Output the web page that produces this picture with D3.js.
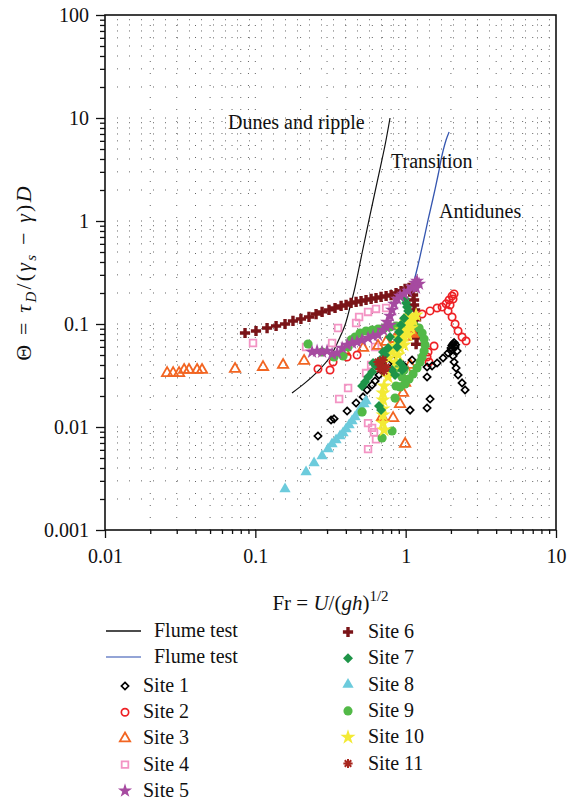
<!DOCTYPE html>
<html><head><meta charset="utf-8">
<script src="https://cdn.jsdelivr.net/npm/d3@7"></script>
<style>
body{margin:0;background:#fff}
svg text{font-family:"Liberation Serif","DejaVu Serif",serif !important;fill:#111}
</style></head>
<body><svg id="c" width="567" height="803"></svg>
<script>
// ---- data: [Fr, Theta] ----
const site1 = [[0.261,0.00818],[0.319,0.0117],[0.334,0.0120],[0.408,0.0143],[0.468,0.0171],[0.521,0.0196],[0.554,0.0229],[0.598,0.0256],[0.626,0.0280],[0.665,0.0320],[0.707,0.0358],[0.764,0.0409],[0.825,0.0447],[0.961,0.040],[1.103,0.0447],[1.070,0.0146],[1.388,0.0153],[1.453,0.0187],[1.388,0.0306],[1.388,0.0382],[1.498,0.0391],[1.618,0.0418],[1.774,0.0468],[1.915,0.0523],[2.004,0.0585],[2.067,0.0639],[2.132,0.0598],[2.198,0.0547],[2.067,0.0489],[2.099,0.0428],[2.165,0.0374],[2.232,0.0320],[2.373,0.0268],[2.484,0.0229],[2.03,0.062],[2.10,0.066],[2.05,0.057],[2.15,0.063],[2.00,0.055]];
const site2 = [[0.261,0.0366],[0.314,0.0358],[0.329,0.0428],[0.408,0.0478],[0.475,0.050],[1.286,0.125],[1.453,0.134],[1.618,0.143],[1.747,0.146],[1.857,0.157],[1.945,0.171],[2.036,0.187],[2.099,0.196],[2.067,0.175],[1.974,0.153],[1.915,0.134],[2.036,0.117],[2.132,0.100],[2.232,0.0855],[2.373,0.0748],[2.522,0.0684],[1.545,0.0612],[1.409,0.0535],[1.388,0.0478],[1.431,0.0428]];
const site3 = [[0.0259,0.0334],[0.0284,0.0334],[0.0311,0.0334],[0.0336,0.0358],[0.0362,0.0358],[0.0410,0.0358],[0.0442,0.0358],[0.0733,0.0366],[0.1125,0.0382],[0.153,0.040],[0.211,0.0438],[0.395,0.0535],[0.521,0.0585],[0.655,0.0612],[0.741,0.0669],[0.850,0.0715],[0.991,0.0748],[1.120,0.080],[1.190,0.0836],[1.070,0.040],[1.038,0.0334],[0.991,0.0268],[0.961,0.0214],[0.918,0.0167],[0.825,0.0122],[0.697,0.0125],[0.991,0.00684]];
const site4 = [[0.0965,0.0654],[0.2175,0.0598],[0.324,0.0654],[0.355,0.0914],[0.468,0.1023],[0.490,0.117],[0.562,0.131],[0.635,0.140],[0.741,0.143],[0.626,0.0598],[0.414,0.0239],[0.361,0.0187],[0.545,0.0334],[0.589,0.040],[0.562,0.0109],[0.598,0.0098],[0.616,0.0089],[0.635,0.0076],[0.562,0.0061]];
const site5 = [[0.2385,0.0535],[0.2575,0.0547],[0.278,0.0535],[0.300,0.0547],[0.324,0.0512],[0.350,0.0523],[0.378,0.0585],[0.408,0.0625],[0.440,0.0654],[0.475,0.0669],[0.513,0.070],[0.562,0.0731],[0.607,0.0765],[0.655,0.0782],[0.707,0.0875],[0.752,0.1045],[0.787,0.1196],[0.812,0.1368],[0.837,0.1565],[0.877,0.175],[0.918,0.187],[0.976,0.1955],[1.038,0.209],[1.103,0.2286],[1.155,0.250],[1.190,0.2614],[1.228,0.2445],[1.173,0.2237],[0.787,0.0978],[0.741,0.0935]];
const site6 = [[0.0854,0.0818],[0.101,0.0855],[0.1197,0.0914],[0.1374,0.0956],[0.1576,0.100],[0.178,0.107],[0.201,0.112],[0.2275,0.117],[0.2535,0.125],[0.278,0.131],[0.309,0.137],[0.339,0.143],[0.372,0.1496],[0.4015,0.153],[0.4335,0.160],[0.468,0.1637],[0.505,0.167],[0.545,0.171],[0.589,0.175],[0.635,0.1788],[0.686,0.183],[0.741,0.187],[0.80,0.191],[0.863,0.200],[0.932,0.209],[0.991,0.219],[1.053,0.224],[1.103,0.214],[1.12,0.191],[1.137,0.171],[1.137,0.153],[1.155,0.137],[1.155,0.1225],[1.173,0.1096],[1.173,0.0956],[1.19,0.0836],[1.19,0.0729],[1.173,0.0636]];
const site7 = [[0.991,0.175],[1.006,0.160],[1.022,0.146],[1.038,0.134],[0.976,0.114],[0.932,0.0978],[0.904,0.0836],[0.890,0.070],[0.877,0.0598],[0.787,0.0748],[0.764,0.0585],[0.707,0.0535],[0.676,0.0447],[0.635,0.0391],[0.598,0.0342],[0.562,0.0306],[0.537,0.0274],[0.513,0.025],[0.607,0.0418],[0.730,0.050],[0.918,0.0418],[0.946,0.0358],[0.976,0.0374],[0.665,0.016],[0.686,0.0146],[0.812,0.0358],[0.850,0.032]];
const site8 = [[0.1576,0.0025],[0.2175,0.00366],[0.2459,0.00447],[0.278,0.00523],[0.3046,0.00612],[0.3237,0.00684],[0.3443,0.00748],[0.366,0.00818],[0.3833,0.00874],[0.4015,0.00956],[0.4203,0.01046],[0.440,0.01143],[0.4607,0.0125],[0.4824,0.01368],[0.505,0.0153],[0.5287,0.01672],[0.545,0.01789]];
const site9 = [[0.2242,0.0639],[0.278,0.0535],[0.3338,0.0478],[0.3833,0.0489],[0.414,0.0598],[0.4331,0.070],[0.4607,0.0748],[0.4973,0.0818],[0.545,0.0855],[0.5975,0.0875],[0.655,0.0894],[0.7183,0.0914],[0.787,0.0935],[0.863,0.0956],[0.946,0.0978],[1.038,0.100],[1.137,0.0978],[1.228,0.0914],[1.286,0.0818],[1.326,0.0715],[1.346,0.0625],[1.326,0.0547],[1.286,0.0478],[1.247,0.04276],[1.19,0.0374],[1.12,0.0327],[1.053,0.0292],[0.991,0.0262],[0.918,0.0245],[0.863,0.025],[0.946,0.0306],[0.976,0.0358],[0.890,0.0374],[0.850,0.0191],[0.513,0.0140],[0.812,0.00915],[0.697,0.00782]];
const site10 = [[1.173,0.1223],[1.12,0.1096],[1.070,0.0978],[1.022,0.0875],[0.976,0.0765],[0.946,0.0669],[0.918,0.0585],[0.890,0.050],[0.863,0.0428],[0.825,0.0358],[0.764,0.0306],[0.718,0.025],[0.707,0.0214],[0.707,0.0183],[0.707,0.0150],[0.707,0.0131],[0.707,0.0109],[0.718,0.00935],[1.070,0.1196],[1.006,0.1045],[0.946,0.0875],[0.890,0.0731],[0.850,0.0612],[0.812,0.0535],[0.776,0.0468],[0.976,0.0625],[1.038,0.0782],[1.086,0.0914]];
const site11 = [[0.655,0.0428],[0.686,0.040],[0.707,0.0447],[0.676,0.0366],[0.718,0.0349],[0.741,0.0382]];

const flumeBlackFr = [0.1754,0.2142,0.2613,0.3141,0.366,0.3953,0.4267,0.4607,0.513,0.5797,0.655,0.7295,0.787];
const flumeBlackTheta = [0.0214,0.0268,0.0349,0.0478,0.0748,0.0978,0.1462,0.2286,0.489,1.144,2.616,5.468,10.0];
const flumeBlueFr = [1.12,1.209,1.305,1.409,1.522,1.643,1.747,1.857,1.945];
const flumeBlueTheta = [0.239,0.374,0.6115,1.023,1.672,2.797,4.373,6.115,7.313];

const xTickLabels = ["0.01","0.1","1","10"];
const yTickLabels = ["0.001","0.01","0.1","1","10","100"];
const siteNames = ["Site 1","Site 2","Site 3","Site 4","Site 5","Site 6","Site 7","Site 8","Site 9","Site 10","Site 11"];
const regimeLabels = ["Dunes and ripple","Transition","Antidunes"];

// ---- setup ----
const FONT = '"Liberation Serif","DejaVu Serif",serif';
const svg = d3.select("#c");
const x = d3.scaleLog().domain([0.01,10]).range([105,556]);
const y = d3.scaleLog().domain([0.001,100]).range([530,15]);
const L = 105, R = 556, T = 15, B = 530;

function minorVals(lo, hi){
  const out=[];
  for(let p=Math.log10(lo); p<Math.log10(hi)-1e-9; p++){
    for(let k=1;k<=9;k++) out.push(k*Math.pow(10,p));
  }
  out.push(hi);
  return out.map(v=>+v.toPrecision(3));
}
const xAll = minorVals(0.01,10);
const yAll = minorVals(0.001,100);
const xMajor = xTickLabels.map(Number);
const yMajor = yTickLabels.map(Number);
const isMaj = (arr,v)=>arr.some(m=>Math.abs(m-v)/m<1e-6);

// grid (dotted)
const grid = svg.append("g").attr("stroke","#333").attr("stroke-width",1).attr("stroke-dasharray","1,11").attr("opacity",0.75);
grid.selectAll("line.h").data(yAll.filter(v=>v>0.001&&v<100)).enter().append("line")
  .attr("x1",L+12).attr("x2",R).attr("y1",d=>y(d)).attr("y2",d=>y(d));
grid.selectAll("line.v").data(xAll.filter(v=>v>0.01&&v<10)).enter().append("line")
  .attr("x1",d=>x(d)).attr("x2",d=>x(d)).attr("y1",T+10).attr("y2",B);

// axes
const yAxis = d3.axisLeft(y).tickValues(yAll).tickSize(5)
  .tickFormat(d=>{const i=yMajor.findIndex(m=>Math.abs(m-d)/m<1e-6);return i>=0?yTickLabels[i]:"";});
const gy = svg.append("g").attr("transform",`translate(${L},0)`).call(yAxis).attr("font-family",FONT);
gy.select(".domain").remove();
gy.selectAll(".tick line").attr("stroke","#111").attr("stroke-width",1.3).attr("x2",d=>isMaj(yMajor,d)?-9:-5);
gy.selectAll(".tick text").attr("font-size",20).attr("x",-16).attr("dy","0.32em").style("font-family",FONT).attr("fill","#111");

const xAxis = d3.axisBottom(x).tickValues(xAll).tickSize(4)
  .tickFormat(d=>{const i=xMajor.findIndex(m=>Math.abs(m-d)/m<1e-6);return i>=0?xTickLabels[i]:"";});
const gx = svg.append("g").attr("transform",`translate(0,${B})`).call(xAxis).attr("font-family",FONT);
gx.select(".domain").remove();
gx.selectAll(".tick line").attr("stroke","#111").attr("stroke-width",1.3).attr("y2",d=>isMaj(xMajor,d)?8:4);
gx.selectAll(".tick text").attr("font-size",20).attr("y",33).attr("dy",0).style("font-family",FONT).attr("fill","#111");

svg.append("rect").attr("x",L).attr("y",T).attr("width",R-L).attr("height",B-T)
  .attr("fill","none").attr("stroke","#111").attr("stroke-width",1.6);

// axis titles
const xt = svg.append("text").attr("x",(L+R)/2).attr("y",610).attr("text-anchor","middle").attr("font-size",21).style("font-family",FONT);
xt.append("tspan").text("Fr = ");
xt.append("tspan").attr("font-style","italic").text("U");
xt.append("tspan").text("/(");
xt.append("tspan").attr("font-style","italic").text("gh");
xt.append("tspan").text(")");
xt.append("tspan").attr("font-size",15).attr("dy",-9).text("1/2");

const yt = svg.append("text").attr("transform",`translate(31,${(T+B)/2}) rotate(-90)`).attr("text-anchor","middle")
  .attr("font-size",22).attr("letter-spacing",2.2).style("font-family",FONT);
yt.append("tspan").text("Θ = ");
yt.append("tspan").attr("font-style","italic").text("τ");
yt.append("tspan").attr("font-style","italic").attr("font-size",15).attr("dy",5).text("D");
yt.append("tspan").attr("dy",-5).text("/(");
yt.append("tspan").attr("font-style","italic").text("γ");
yt.append("tspan").attr("font-style","italic").attr("font-size",15).attr("dy",5).text("s");
yt.append("tspan").attr("dy",-5).text(" − ");
yt.append("tspan").attr("font-style","italic").text("γ");
yt.append("tspan").text(")");
yt.append("tspan").attr("font-style","italic").text("D");

// flume curves
const line = d3.line().x(d=>x(d[0])).y(d=>y(d[1])).curve(d3.curveCatmullRom);
svg.append("path").datum(flumeBlackFr.map((f,i)=>[f,flumeBlackTheta[i]]))
  .attr("d",line).attr("fill","none").attr("stroke","#111").attr("stroke-width",1.2);
svg.append("path").datum(flumeBlueFr.map((f,i)=>[f,flumeBlueTheta[i]]))
  .attr("d",line).attr("fill","none").attr("stroke","#3556b0").attr("stroke-width",1.3);

// regime labels
const regPos = [[228,129],[391,168],[439,218]];
svg.selectAll("text.reg").data(regimeLabels).enter().append("text")
  .attr("x",(d,i)=>regPos[i][0]).attr("y",(d,i)=>regPos[i][1]).attr("font-size",20).style("font-family",FONT).text(d=>d);

// marker styles
const asterisk = {draw(ctx,size){const r=Math.sqrt(size)/2;for(let k=0;k<4;k++){const a=k*Math.PI/4;ctx.moveTo(-r*Math.cos(a),-r*Math.sin(a));ctx.lineTo(r*Math.cos(a),r*Math.sin(a));}}};
const sqDiamond = {draw(ctx,size){const r=Math.sqrt(size/2);ctx.moveTo(0,-r);ctx.lineTo(r,0);ctx.lineTo(0,r);ctx.lineTo(-r,0);ctx.closePath();}};
const styles = [
  {type:sqDiamond,size:26,fill:"none",stroke:"#000",sw:1.7},
  {type:d3.symbolCircle,size:42,fill:"none",stroke:"#ee2024",sw:1.7},
  {type:d3.symbolTriangle,size:46,fill:"none",stroke:"#f26522",sw:1.8},
  {type:d3.symbolSquare,size:44,fill:"none",stroke:"#f394c4",sw:1.8},
  {type:d3.symbolStar,size:62,fill:"#a64aa0",stroke:"none",sw:0},
  {type:d3.symbolCross,size:58,fill:"#7a1418",stroke:"none",sw:0},
  {type:sqDiamond,size:50,fill:"#1e9448",stroke:"none",sw:0},
  {type:d3.symbolTriangle,size:55,fill:"#6ccbdc",stroke:"none",sw:0},
  {type:d3.symbolCircle,size:66,fill:"#52b947",stroke:"none",sw:0},
  {type:d3.symbolStar,size:72,fill:"#f3ea35",stroke:"none",sw:0},
  {type:asterisk,size:85,fill:"none",stroke:"#a8261e",sw:2}
];
const allSites = [site1,site2,site3,site4,site5,site6,site7,site8,site9,site10,site11];
const order = [5,3,2,1,0,7,8,9,6,4,10];
const gp = svg.append("g");
order.forEach(i=>{
  const s = styles[i];
  gp.append("g").selectAll("path").data(allSites[i]).enter().append("path")
    .attr("d",d3.symbol().type(s.type).size(s.size))
    .attr("transform",d=>`translate(${x(d[0])},${y(d[1])})`)
    .attr("fill",s.fill).attr("stroke",s.stroke).attr("stroke-width",s.sw);
});

// legend
const lg = svg.append("g");
const flumeColors = ["#111","#6f86c8"];
[631,657].forEach((yy,i)=>{
  lg.append("line").attr("x1",106).attr("x2",141).attr("y1",yy).attr("y2",yy).attr("stroke",flumeColors[i]).attr("stroke-width",1.5);
  lg.append("text").attr("x",154).attr("y",yy+6).attr("font-size",20).style("font-family",FONT).text("Flume test");
});
siteNames.forEach((name,i)=>{
  const s = styles[i];
  const col = i<5?0:1;
  const row = i<5?i:i-5;
  const mx = col===0?125:348;
  const my = col===0?686+row*26.2:632+row*26.3;
  lg.append("path").attr("d",d3.symbol().type(s.type).size(s.size)).attr("transform",`translate(${mx},${my})`)
    .attr("fill",s.fill).attr("stroke",s.stroke).attr("stroke-width",s.sw);
  lg.append("text").attr("x",col===0?143:368).attr("y",my+6).attr("font-size",20).style("font-family",FONT).text(name);
});
</script></body></html>
